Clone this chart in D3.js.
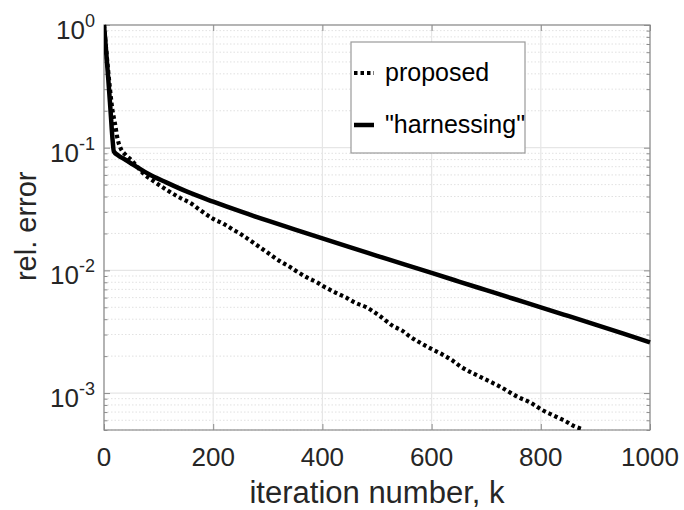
<!DOCTYPE html>
<html>
<head>
<meta charset="utf-8">
<script src="https://cdn.jsdelivr.net/npm/d3@7"></script>
<style>
  body { margin: 0; background: #fff; }
  text { font-family: "Liberation Sans", Arial, Helvetica, sans-serif; }
</style>
</head>
<body>
<div id="chart"></div>
<script>
// data
const propIter = [0, 5, 10, 15, 20, 25, 30, 40, 50, 60, 72, 90, 115, 140, 160, 176, 200, 220, 237, 250, 267, 285, 300, 322, 340, 350, 375, 390, 402, 430, 445, 460, 480, 505, 530, 545, 560, 591, 620, 640, 652, 690, 725, 760, 780, 802, 830, 845, 860, 878];
const propErr  = [1, 0.562, 0.331, 0.209, 0.158, 0.117, 0.100, 0.0871, 0.0794, 0.0708, 0.0617, 0.0537, 0.0452, 0.0389, 0.0350, 0.0310, 0.0263, 0.0238, 0.0214, 0.0198, 0.0176, 0.0155, 0.0139, 0.0119, 0.0107, 0.0100, 0.00860, 0.00800, 0.00741, 0.00640, 0.00595, 0.00545, 0.00501, 0.00425, 0.00350, 0.00325, 0.00290, 0.00240, 0.00206, 0.00182, 0.00166, 0.00135, 0.00113, 0.000920, 0.000840, 0.000730, 0.000635, 0.000590, 0.000540, 0.000505];

const harnIter = [0, 4, 8, 12, 16, 18, 25, 40, 54, 80, 115, 150, 200, 250, 300, 350, 400, 450, 500, 550, 600, 650, 700, 750, 800, 850, 900, 950, 1000];
const harnErr  = [1, 0.603, 0.355, 0.200, 0.112, 0.0933, 0.0871, 0.0794, 0.0724, 0.0617, 0.0519, 0.0442, 0.0363, 0.0302, 0.0254, 0.0215, 0.0182, 0.01545, 0.01315, 0.01119, 0.00953, 0.00811, 0.00690, 0.00587, 0.00500, 0.00425, 0.00361, 0.00306, 0.00259];

const xTicks = [0, 200, 400, 600, 800, 1000];
const yDecades = [-3, -2, -1, 0];
const legendNames = ["proposed", "\"harnessing\""];

const WIDTH = 684, HEIGHT = 510;
const margin = { left: 104, right: 34, top: 25, bottom: 80 };
const WIDTHVIS = WIDTH - margin.left - margin.right;
const HEIGHTVIS = HEIGHT - margin.top - margin.bottom;

const xScale = d3.scaleLinear().domain([0, 1000]).range([0, WIDTHVIS]);
const yScale = d3.scaleLog().domain([5e-4, 1]).range([HEIGHTVIS, 0]);

const svg = d3.select("#chart").append("svg")
    .attr("width", WIDTH)
    .attr("height", HEIGHT);

const g = svg.append("g").attr("transform", `translate(${margin.left},${margin.top})`);

// minor y values
const yMinor = [];
for (let e = -4; e <= 0; e++) {
    for (let m = 2; m <= 9; m++) {
        const v = m * Math.pow(10, e);
        if (v >= 5e-4 && v <= 1) yMinor.push(v);
    }
}

// grid
g.append("g").selectAll("line").data(yMinor).join("line")
    .attr("x1", 0).attr("x2", WIDTHVIS)
    .attr("y1", d => yScale(d)).attr("y2", d => yScale(d))
    .attr("stroke", "#d9d9d9").attr("stroke-width", 0.8)
    .attr("stroke-dasharray", "1.5,2");

g.append("g").selectAll("line").data(yDecades).join("line")
    .attr("x1", 0).attr("x2", WIDTHVIS)
    .attr("y1", d => yScale(Math.pow(10, d))).attr("y2", d => yScale(Math.pow(10, d)))
    .attr("stroke", "#e6e6e6").attr("stroke-width", 1.2);

g.append("g").selectAll("line").data(xTicks).join("line")
    .attr("x1", d => xScale(d)).attr("x2", d => xScale(d))
    .attr("y1", 0).attr("y2", HEIGHTVIS)
    .attr("stroke", "#e6e6e6").attr("stroke-width", 1.2);

// axes (ticks inward, box)
const axisColor = "#8c8c8c";
function styleAxis(sel) {
    sel.select(".domain").remove();
    sel.selectAll(".tick line").attr("stroke", axisColor);
    sel.selectAll(".tick text").remove();
}

g.append("g").attr("transform", `translate(0,${HEIGHTVIS})`)
    .call(d3.axisBottom(xScale).tickValues(xTicks).tickSize(-6)).call(styleAxis);
g.append("g")
    .call(d3.axisTop(xScale).tickValues(xTicks).tickSize(-6)).call(styleAxis);
g.append("g")
    .call(d3.axisLeft(yScale).tickValues(yDecades.map(d => Math.pow(10, d))).tickSize(-6)).call(styleAxis);
g.append("g")
    .call(d3.axisLeft(yScale).tickValues(yMinor).tickSize(-3.5)).call(styleAxis);
g.append("g").attr("transform", `translate(${WIDTHVIS},0)`)
    .call(d3.axisRight(yScale).tickValues(yDecades.map(d => Math.pow(10, d))).tickSize(-6)).call(styleAxis);
g.append("g").attr("transform", `translate(${WIDTHVIS},0)`)
    .call(d3.axisRight(yScale).tickValues(yMinor).tickSize(-3.5)).call(styleAxis);

g.append("rect")
    .attr("x", 0).attr("y", 0).attr("width", WIDTHVIS).attr("height", HEIGHTVIS)
    .attr("fill", "none").attr("stroke", axisColor).attr("stroke-width", 1.2);

// tick labels
g.append("g").selectAll("text").data(xTicks).join("text")
    .attr("x", d => xScale(d))
    .attr("y", HEIGHTVIS + 36)
    .attr("text-anchor", "middle")
    .attr("font-size", "26px")
    .attr("fill", "#262626")
    .text(d => d);

const yLab = g.append("g").selectAll("text").data(yDecades).join("text")
    .attr("x", -9)
    .attr("y", d => yScale(Math.pow(10, d)) + 14)
    .attr("text-anchor", "end")
    .attr("font-size", "26px")
    .attr("fill", "#262626");
yLab.append("tspan").text("10");
yLab.append("tspan")
    .attr("dy", -12)
    .attr("font-size", "18px")
    .text(d => d === 0 ? "0" : "-" + Math.abs(d));

// axis titles
svg.append("text")
    .attr("x", margin.left + WIDTHVIS / 2)
    .attr("y", 503)
    .attr("text-anchor", "middle")
    .attr("font-size", "31px")
    .attr("fill", "#262626")
    .text("iteration number, k");

svg.append("text")
    .attr("transform", `translate(36,${margin.top + HEIGHTVIS * 0.497}) rotate(-90)`)
    .attr("text-anchor", "middle")
    .attr("font-size", "29px")
    .attr("fill", "#262626")
    .text("rel. error");

// curves
svg.append("clipPath").attr("id", "plotclip")
    .append("rect").attr("x", 0).attr("y", -3).attr("width", WIDTHVIS + 3).attr("height", HEIGHTVIS + 3);

const lineSmooth = d3.line()
    .x(d => xScale(d[0]))
    .y(d => yScale(d[1]))
    .curve(d3.curveMonotoneX);

const curves = g.append("g").attr("clip-path", "url(#plotclip)");

curves.append("path")
    .datum(harnIter.map((k, i) => [k, harnErr[i]]))
    .attr("d", lineSmooth)
    .attr("fill", "none")
    .attr("stroke", "#000")
    .attr("stroke-width", 4.5)
    .attr("stroke-linejoin", "round");

curves.append("path")
    .datum(propIter.map((k, i) => [k, propErr[i]]))
    .attr("d", lineSmooth)
    .attr("fill", "none")
    .attr("stroke", "#000")
    .attr("stroke-width", 4.2)
    .attr("stroke-dasharray", "3.5,3");

// legend
const legend = svg.append("g").attr("transform", "translate(351,42)");
legend.append("rect")
    .attr("width", 174).attr("height", 111)
    .attr("fill", "#fff")
    .attr("stroke", "#9a9a9a").attr("stroke-width", 1.2);

const legendRows = legend.selectAll("g.row").data(legendNames).join("g")
    .attr("class", "row")
    .attr("transform", (d, i) => `translate(0,${i === 0 ? 31 : 83})`);

legendRows.append("line")
    .attr("x1", 3).attr("x2", 23)
    .attr("stroke", "#000")
    .attr("stroke-width", (d, i) => i === 0 ? 4.2 : 4.5)
    .attr("stroke-dasharray", (d, i) => i === 0 ? "3.5,3" : null);

legendRows.append("text")
    .attr("x", 34)
    .attr("y", 8)
    .attr("font-size", "25px")
    .attr("fill", "#000")
    .text(d => d);
</script>
</body>
</html>
